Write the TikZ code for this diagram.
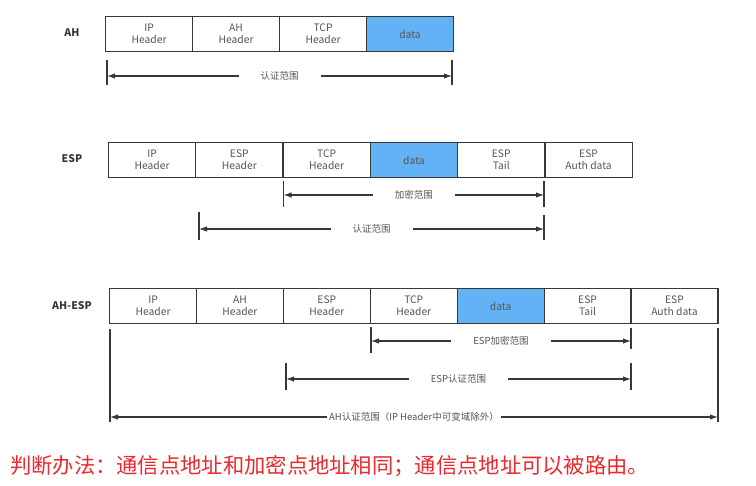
\documentclass[tikz,border=0pt]{standalone}
\usepackage{fontspec}
\usetikzlibrary{arrows.meta}
\setmainfont{Noto Sans CJK SC}
\definecolor{datablue}{RGB}{99,178,245}
\definecolor{boxline}{RGB}{55,55,55}
\definecolor{labelgray}{RGB}{85,85,85}
\definecolor{notered}{RGB}{235,40,45}
\begin{document}
\begin{tikzpicture}[x=1pt, y=-1pt, > = {Latex[length=8pt, width=5.5pt]},
    field/.style={draw=boxline, line width=1.1pt, minimum width=87pt, minimum height=35pt,
                  inner sep=0pt, align=center, anchor=north west, text=labelgray,
                  font=\fontsize{10.3}{11.8}\selectfont},
    rowname/.style={font=\fontsize{10.5}{12}\selectfont\bfseries, text=boxline},
    spanline/.style={<->, line width=1.1pt, boxline},
    spantext/.style={fill=white, inner xsep=22pt, inner ysep=1pt, text=labelgray,
                     font=\fontsize{9.5}{11}\selectfont},
    spanedge/.style={line width=1.3pt, boxline}]
    \useasboundingbox (0,0) rectangle (756,486);

    % AH
    \node[rowname] (ahname) at (72,33) {AH};
    \foreach \txt/\fc [count=\i] in {IP\\Header/white, AH\\Header/white, TCP\\Header/white, data/datablue}
        \node[field, fill=\fc] (ah\i) at ({105+87*(\i-1)},16) {\txt};

    \coordinate (ahL) at (107,76);
    \coordinate (ahR) at (452,76);
    \draw[spanedge] ([yshift=16]ahL) -- ([yshift=-9]ahL);
    \draw[spanedge] ([yshift=16]ahR) -- ([yshift=-9]ahR);
    \draw[spanline] (ahL) -- (ahR) node[midway, spantext] {认证范围};

    % ESP
    \node[rowname] (espname) at (72,159) {ESP};
    \foreach \txt/\fc [count=\i] in {IP\\Header/white, ESP\\Header/white, TCP\\Header/white,
                                     data/datablue, ESP\\Tail/white, ESP\\Auth data/white}
        \node[field, fill=\fc] (esp\i) at ({108+87.3*(\i-1)},142) {\txt};

    \coordinate (encL) at (283.5,195);
    \coordinate (encR) at (544,195);
    \draw[spanedge] ([yshift=14]encL) -- ([yshift=-12]encL);
    \draw[spanedge] ([yshift=14]encR) -- ([yshift=-12]encR);
    \draw[spanline] (encL) -- (encR) node[midway, spantext] {加密范围};

    \coordinate (authL) at (199,229);
    \coordinate (authR) at (544,229);
    \draw[spanedge] ([yshift=17]authL) -- ([yshift=-11]authL);
    \draw[spanedge] ([yshift=14]authR) -- ([yshift=-11]authR);
    \draw[spanline] (authL) -- (authR) node[midway, spantext] {认证范围};

    % AH-ESP
    \node[rowname] (ahespname) at (72,306) {AH-ESP};
    \foreach \txt/\fc [count=\i] in {IP\\Header/white, AH\\Header/white, ESP\\Header/white,
                                     TCP\\Header/white, data/datablue, ESP\\Tail/white,
                                     ESP\\Auth data/white}
        \node[field, fill=\fc] (ae\i) at ({109+86.9*(\i-1)},288) {\txt};

    \coordinate (aeEncL) at (371,341);
    \coordinate (aeEncR) at (631,341);
    \draw[spanedge] ([yshift=14]aeEncL) -- ([yshift=-12]aeEncL);
    \draw[spanedge] ([yshift=13]aeEncR) -- ([yshift=-8]aeEncR);
    \draw[spanline] (aeEncL) -- (aeEncR) node[midway, spantext] {ESP加密范围};

    \coordinate (aeAuthL) at (286,379);
    \coordinate (aeAuthR) at (631,379);
    \draw[spanedge] ([yshift=16]aeAuthL) -- ([yshift=-11]aeAuthL);
    \draw[spanedge] ([yshift=16]aeAuthR) -- ([yshift=-11]aeAuthR);
    \draw[spanline] (aeAuthL) -- (aeAuthR) node[midway, spantext] {ESP认证范围};

    \coordinate (ahAuthL) at (110,417);
    \coordinate (ahAuthR) at (718,417);
    \draw[spanedge] ([yshift=88]ahAuthL) -- ([yshift=-5]ahAuthL);
    \draw[spanedge] ([yshift=89]ahAuthR) -- ([yshift=-5]ahAuthR);
    \draw[spanline] (ahAuthL) -- (ahAuthR)
        node[midway, spantext, inner xsep=2pt] {AH认证范围（IP Header中可变域除外）};

    % note
    \node[anchor=west, text=notered, font=\fontsize{21.3}{24}\selectfont, inner sep=0pt]
        (note) at (10,466) {判断办法：通信点地址和加密点地址相同；通信点地址可以被路由。};
\end{tikzpicture}
\end{document}
